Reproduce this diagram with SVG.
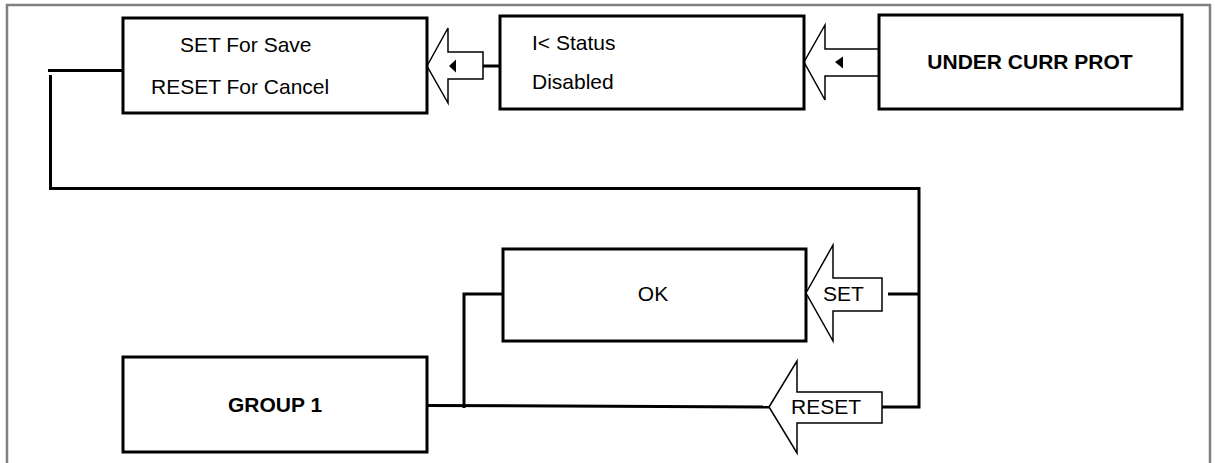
<svg xmlns="http://www.w3.org/2000/svg" width="1215" height="463" viewBox="0 0 1215 463">
<style>
.box{fill:#fff;stroke:#000;stroke-width:3}
.frame{fill:none;stroke:#808080;stroke-width:2.5}
.conn{fill:none;stroke:#000;stroke-width:3}
.barrow{fill:#fff;stroke:#000;stroke-width:1.5;stroke-linejoin:miter}
.tri{fill:#000}
.t{font-family:"Liberation Sans",Arial,sans-serif;font-size:21px;fill:#000}
.b{font-weight:bold}
</style>
<rect width="1215" height="463" fill="#fff"/>
<path class="frame" d="M7,470 V5 H1210 V470"/>
<g id="connectors">
<line class="conn" x1="48" y1="70.5" x2="123" y2="70.5"/>
<polyline class="conn" points="50.5,75 50.5,188.5 919,188.5 919,407 882,407"/>
<line class="conn" x1="888" y1="294" x2="919" y2="294"/>
<line class="conn" x1="483" y1="66" x2="500" y2="66"/>
<polyline class="conn" points="503,294 464,294 464,408"/>
<line class="conn" x1="427" y1="405.5" x2="769" y2="407"/>
</g>
<g id="arrow-set-save">
<polygon class="barrow" points="427,66 448,28 448,52 483,52 483,79 448,79 448,103"/>
<polygon class="tri" points="449,66 456,59.5 456,72.5"/>
</g>
<g id="arrow-status">
<polygon class="barrow" points="804,62 825,25 825,49 879,49 879,76 825,76 825,100"/>
<polygon class="tri" points="835,62 843,56.5 843,68.5"/>
</g>
<g id="node-save">
<rect class="box" x="123" y="18" width="304" height="95"/>
<text class="t" x="180" y="52">SET For Save</text>
<text class="t" x="151" y="93.5">RESET For Cancel</text>
</g>
<g id="node-status">
<rect class="box" x="500" y="16" width="304" height="93"/>
<text class="t" x="532" y="49.5">I&lt; Status</text>
<text class="t" x="532" y="88.5">Disabled</text>
</g>
<g id="node-under-curr">
<rect class="box" x="879" y="15" width="303" height="94"/>
<text class="t b" x="1030" y="69" text-anchor="middle">UNDER CURR PROT</text>
</g>
<g id="node-ok">
<rect class="box" x="503" y="249" width="303" height="92"/>
<text class="t" x="653" y="301" text-anchor="middle">OK</text>
</g>
<g id="arrow-set">
<polygon class="barrow" points="806,293 833,245 833,278 882,278 882,311 833,311 833,341"/>
<text class="t" x="823" y="301">SET</text>
</g>
<g id="arrow-reset">
<polygon class="barrow" points="769,407 797,361 797,392 882,392 882,423 797,423 797,453"/>
<text class="t" x="791" y="414">RESET</text>
</g>
<g id="node-group1">
<rect class="box" x="123" y="357" width="304" height="95"/>
<text class="t b" x="275" y="412" text-anchor="middle">GROUP 1</text>
</g>
</svg>
